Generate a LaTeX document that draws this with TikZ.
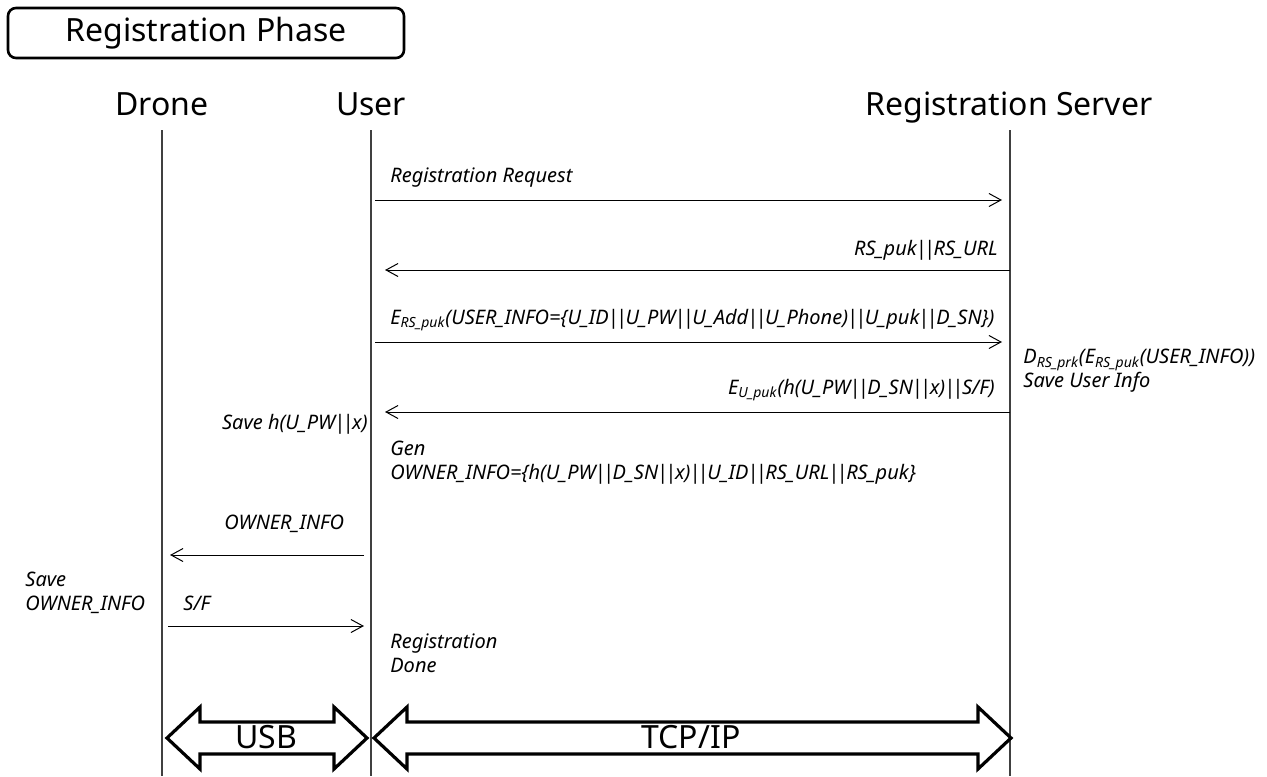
\documentclass[tikz,border=0pt]{standalone}
\usepackage{fontspec}
\setmainfont{Noto Sans}
\usetikzlibrary{arrows.meta, positioning, calc}

% tight double bar
\newcommand{\dbar}{\kern-0.6pt|\kern-1.4pt|\kern-0.6pt}
% wide two-headed link arrow: from x1 to x2 at height y
\newcommand{\linkarrow}[3]{%
  \draw[wide] (#1,#3) -- ({#1+33},{#3-31}) -- ({#1+33},{#3-16}) -- ({#2-33},{#3-16})
    -- ({#2-33},{#3-31}) -- (#2,#3) -- ({#2-33},{#3+31}) -- ({#2-33},{#3+16})
    -- ({#1+33},{#3+16}) -- ({#1+33},{#3+31}) -- cycle;}

\begin{document}
\begin{tikzpicture}[x=0.5pt, y=-0.5pt,
  actor/.style={font=\fontsize{16}{19}\selectfont, text height=11.5pt, text depth=3.5pt},
  lbl/.style={font=\itshape\fontsize{10}{12}\selectfont, inner sep=0pt, align=left},
  life/.style={draw=black!75, line width=0.6pt},
  msg/.style={line width=0.5pt, -{Straight Barb[length=6pt, width=6.5pt]}},
  wide/.style={draw, line width=1.6pt, line join=miter}]
\useasboundingbox (0,0) rectangle (1267,776);

% title
\node[draw, line width=1.3pt, rounded corners=4pt, minimum width=198pt, minimum height=25pt,
  font=\fontsize{16}{19}\selectfont, text height=11.5pt, text depth=3.5pt] (phase) at (206,33) {Registration Phase};

% actors and lifelines
\node[actor] (drone) at (162,107) {Drone};
\node[actor] (user) at (371,107) {User};
\node[actor] (rs) at (1009,107) {Registration Server};
\coordinate (dbot) at (162,776);
\coordinate (ubot) at (371,776);
\coordinate (rbot) at (1010,776);
\draw[life] (162,130) -- (dbot);
\draw[life] (371,130) -- (ubot);
\draw[life] (1010,130) -- (rbot);

% messages
\coordinate (m1a) at (375,200);  \coordinate (m1b) at (1002,200);
\coordinate (m2a) at (1010,270); \coordinate (m2b) at (385,270);
\coordinate (m3a) at (375,342);  \coordinate (m3b) at (1002,342);
\coordinate (m4a) at (1010,412); \coordinate (m4b) at (385,412);
\coordinate (m5a) at (364,555);  \coordinate (m5b) at (170,555);
\coordinate (m6a) at (168,626);  \coordinate (m6b) at (364,626);
\draw[msg] (m1a) -- (m1b);
\draw[msg] (m2a) -- (m2b);
\draw[msg] (m3a) -- (m3b);
\draw[msg] (m4a) -- (m4b);
\draw[msg] (m5a) -- (m5b);
\draw[msg] (m6a) -- (m6b);

\node[lbl, anchor=west] (req) at (390,178) {Registration Request};
\node[lbl, anchor=east] (rsurl) at (998,250) {RS\_puk\dbar RS\_URL};
\node[lbl, anchor=west] (uinfo) at (390,320)
  {E\textsubscript{RS\_puk}(USER\_INFO=\{U\_ID\dbar U\_PW\dbar U\_Add\dbar U\_Phone)\dbar U\_puk\dbar D\_SN\})};
\node[lbl, anchor=east] (reply) at (995,390) {E\textsubscript{U\_puk}(h(U\_PW\dbar D\_SN\dbar x)\dbar S/F)};
\node[lbl, anchor=north west] (rsnote) at (1023,349)
  {D\textsubscript{RS\_prk}(E\textsubscript{RS\_puk}(USER\_INFO))\\Save User Info};
\node[lbl, anchor=east] (savepw) at (368,424) {Save h(U\_PW\dbar x)};
\node[lbl, anchor=north west] (gen) at (390,441)
  {Gen\\OWNER\_INFO=\{h(U\_PW\dbar D\_SN\dbar x)\dbar U\_ID\dbar RS\_URL\dbar RS\_puk\}};
\node[lbl, anchor=west] (owner) at (224,524) {OWNER\_INFO};
\node[lbl, anchor=north west] (saveown) at (25,572) {Save\\OWNER\_INFO};
\node[lbl, anchor=west] (sf) at (183,603) {S/F};
\node[lbl, anchor=north west] (done) at (390,633) {Registration\\Done};

% links
\linkarrow{167}{367}{738}
\linkarrow{374}{1011}{738}
\node[font=\fontsize{16}{19}\selectfont] (usb) at (266,737) {USB};
\node[font=\fontsize{16}{19}\selectfont] (tcp) at (691,737) {TCP/IP};
\end{tikzpicture}
\end{document}
